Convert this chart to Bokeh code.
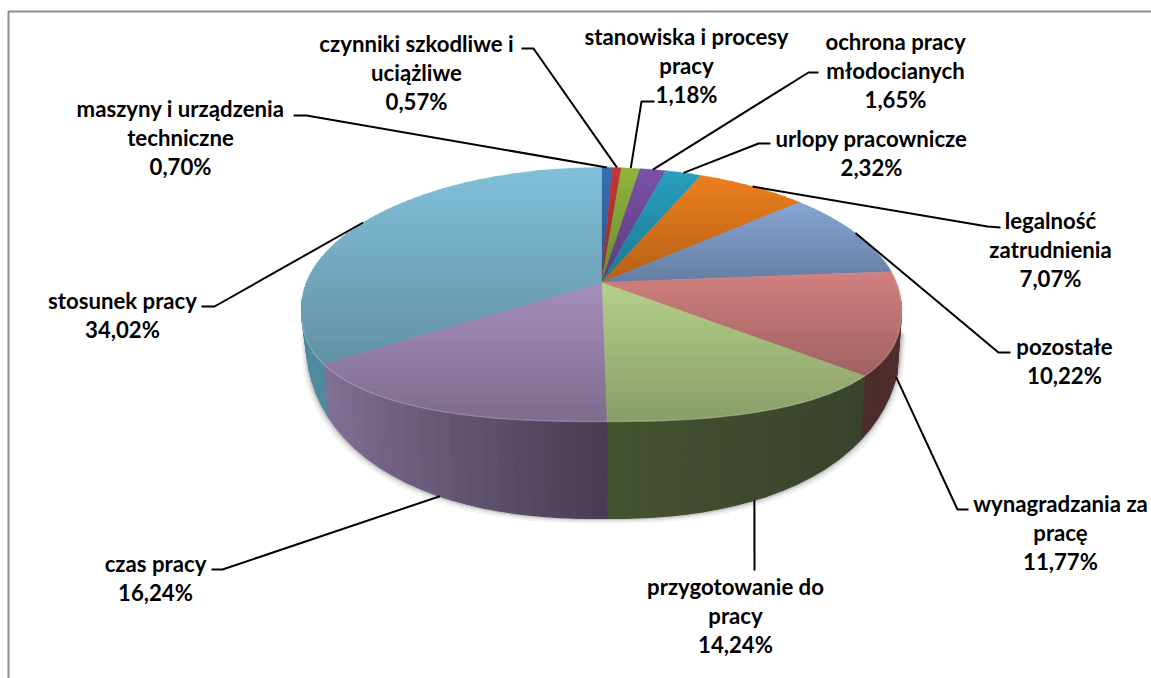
import numpy as np
from bokeh.plotting import figure
from bokeh.embed import file_html
from bokeh.resources import INLINE
from bokeh.models import Range1d
from bokeh.core.properties import value

# ---- data (clockwise from 12 o'clock) ----
names = ["maszyny i urządzenia\ntechniczne", "czynniki szkodliwe i\nuciążliwe",
         "stanowiska i procesy\npracy", "ochrona pracy\nmłodocianych",
         "urlopy pracownicze", "legalność\nzatrudnienia", "pozostałe",
         "wynagradzania za\npracę", "przygotowanie do\npracy", "czas pracy", "stosunek pracy"]
values = [0.70, 0.57, 1.18, 1.65, 2.32, 7.07, 10.22, 11.77, 14.24, 16.24, 34.02]
value_labels = ["0,70%", "0,57%", "1,18%", "1,65%", "2,32%", "7,07%", "10,22%", "11,77%", "14,24%", "16,24%", "34,02%"]

# ---- styles ----
top_colors = ["#3A6FB5", "#C23A36", "#90B63F", "#7A52A6", "#2AA0C0", "#EE801F",
              "#86A5D4", "#D28280", "#B6D08A", "#A68FBC", "#82C0DA"]
shade_bottom = 0.76
side_light = ["#3A6FB5", "#C23A36", "#90B63F", "#7A52A6", "#2AA0C0", "#EE801F",
              "#86A5D4", "#5A3434", "#46532F", "#84739A", "#4F8A9E"]
side_dark = ["#3A6FB5", "#C23A36", "#90B63F", "#7A52A6", "#2AA0C0", "#EE801F",
             "#86A5D4", "#4A2A2A", "#39422B", "#483D52", "#4F8A9E"]
label_pos = [(180, 108), (416, 43), (686, 36), (895, 41), (871, 138), (1050, 220),
             (1064, 346), (1060, 503), (735, 586), (155, 563), (122, 300)]
leader_elbows = [[(306, 115), (293, 115)], [(533, 48), (521, 48)], [(641, 101), (654, 101)],
                 [(808, 72), (818, 72)], [(758, 143), (770, 143)], [(987, 226), (1000, 227)],
                 [(998, 352), (1010, 352)], [(957, 509), (968, 509)], [(754, 570)],
                 [(222, 569), (211, 569)], [(214, 306), (201, 306)]]
leader_nudge = [0, 0, 0, 0, 0, 0, 0, 0, -0.006, 0.006, 0]
LINE_H, FONT = 29, "22.2px"

W, H = 1151, 678
VX, VY = 601.0, 282.0       # apex of the pie
CX, CY, RX, RT, RB, NB = 601.0, 307.0, 300.0, 140.0, 114.0, 2.5   # top rim
BX, BY, BA, BB, BN = 603.0, 330.0, 298.0, 188.0, 2.3              # lower rim
STRETCH = 2.18


def inside(x, y):
    dx = np.abs(x - CX) / RX
    if y <= CY:
        return dx ** 2 + ((y - CY) / RT) ** 2 <= 1
    return dx ** NB + ((y - CY) / RB) ** NB <= 1


def rim(frac):
    th = 2 * np.pi * frac
    d = np.array([STRETCH * np.sin(th), np.cos(th)])
    d = d / np.hypot(*d)
    lo, hi = 0.0, 400.0
    for _ in range(40):
        m = (lo + hi) / 2
        if inside(VX + d[0] * m, VY - d[1] * m):
            lo = m
        else:
            hi = m
    return VX + d[0] * lo, VY - d[1] * lo


def lower(x):
    xb = x * 0.985 + BX * 0.015
    dx = min(abs(xb - BX) / BA, 1.0)
    return xb, BY + BB * (1 - dx ** BN) ** (1 / BN)


def mix(a, b, t):
    ca = [int(a[i:i + 2], 16) for i in (1, 3, 5)]
    cb = [int(b[i:i + 2], 16) for i in (1, 3, 5)]
    return "#%02x%02x%02x" % tuple(int(round(u + (v - u) * t)) for u, v in zip(ca, cb))


def scale(c, f):
    return "#%02x%02x%02x" % tuple(int(int(c[i:i + 2], 16) * f) for i in (1, 3, 5))


def clip(poly, y0, y1):
    def cut(pts, keep, isect):
        out = []
        for i in range(len(pts)):
            a, b = pts[i], pts[(i + 1) % len(pts)]
            if keep(a):
                out.append(a)
            if keep(a) != keep(b):
                t = (isect - a[1]) / (b[1] - a[1])
                out.append((a[0] + (b[0] - a[0]) * t, isect))
        return out
    pts = cut(poly, lambda p: p[1] >= y0, y0)
    if pts:
        pts = cut(pts, lambda p: p[1] <= y1, y1)
    return pts


p = figure(width=W, height=H, x_range=Range1d(0, W), y_range=Range1d(H, 0),
           output_backend="svg", toolbar_location=None, min_border=0,
           background_fill_color="white", border_fill_color="white")
p.axis.visible = False
p.grid.visible = False
p.outline_line_color = None

# frame: top and left edges only
p.line([8, 8, W], [H, 11, 11], line_color="#8c8c8c", line_width=2)

cum = np.concatenate([[0], np.cumsum(values)]) / sum(values)
cum[-1] = 1.0
mids = (cum[:-1] + cum[1:]) / 2

# soft shadow under the body
sx = np.linspace(BX - BA, BX + BA, 200)
sy = [BY + BB * (1 - min(abs(v - BX) / BA, 1) ** BN) ** (1 / BN) for v in sx]
for off, al in [(5, 0.05), (3, 0.08), (1.5, 0.12)]:
    p.patch(list(sx + np.sign(sx - BX) * off) + [BX], [v + off for v in sy] + [250],
            fill_color="#000000", fill_alpha=al, line_color=None)

# side wall: vertical strips
rx_, ry_, cols = [], [], []
for i in range(len(values)):
    fr = np.linspace(cum[i], cum[i + 1], max(3, int((cum[i + 1] - cum[i]) * 130)))
    for a, b in zip(fr[:-1], fr[1:]):
        pa, pb = rim(a), rim(b)
        if pa[1] < CY - 2 and pb[1] < CY - 2:
            continue
        qa, qb = lower(pa[0]), lower(pb[0])
        t = (a - cum[i]) / max(cum[i + 1] - cum[i], 1e-6)
        if i in (8, 9):
            t = 1 - t
        elif i == 10:
            t = 0
        rx_.append([pa[0], pb[0], qb[0], qa[0]])
        ry_.append([pa[1], pb[1], qb[1], qa[1]])
        cols.append(mix(side_light[i], side_dark[i], t))
p.patches(rx_, ry_, fill_color=cols, line_color=cols, line_width=1.2)

# top face: horizontal bands give each slice its own vertical shading
tx, ty, tc = [], [], []
for i in range(len(values)):
    n = max(3, int((cum[i + 1] - cum[i]) * 200))
    poly = [(VX, VY)] + [rim(f) for f in np.linspace(cum[i], cum[i + 1], n)]
    ys = [q[1] for q in poly]
    y0, y1 = min(ys), max(ys)
    edges = np.arange(y0, y1 + 3, 3)
    for a, b in zip(edges[:-1], edges[1:]):
        c = clip(poly, a, b + 0.5)
        if len(c) < 3:
            continue
        t = ((a + b) / 2 - y0) / max(y1 - y0, 1)
        tx.append([q[0] for q in c])
        ty.append([q[1] for q in c])
        tc.append(scale(top_colors[i], 1 - (1 - shade_bottom) * t))
p.patches(tx, ty, fill_color=tc, line_color=tc, line_width=0.4)

# bright edge along the front of the disc
fr = np.linspace(cum[6] + 0.06, cum[10] + 0.045, 240)
pts = [rim(f) for f in fr]
p.line([q[0] for q in pts], [q[1] for q in pts], line_color="#ffffff", line_alpha=0.2, line_width=1.5)

# leader lines and labels
for i, nm in enumerate(names):
    s = rim(mids[i] + leader_nudge[i])
    if s[1] > CY:
        s = lower(s[0])
    pts = [s] + leader_elbows[i]
    p.line([q[0] for q in pts], [q[1] for q in pts], line_color="#000000", line_width=2)
    lines = nm.split("\n") + [value_labels[i]]
    cx, y = label_pos[i]
    p.text([cx] * len(lines), [y + LINE_H * k for k in range(len(lines))], text=lines,
           text_font=value("Lato"), text_font_style="bold", text_font_size=FONT,
           text_color="#000000", text_align="center", text_baseline="middle")

open("out.html", "w").write(file_html(p, INLINE))
